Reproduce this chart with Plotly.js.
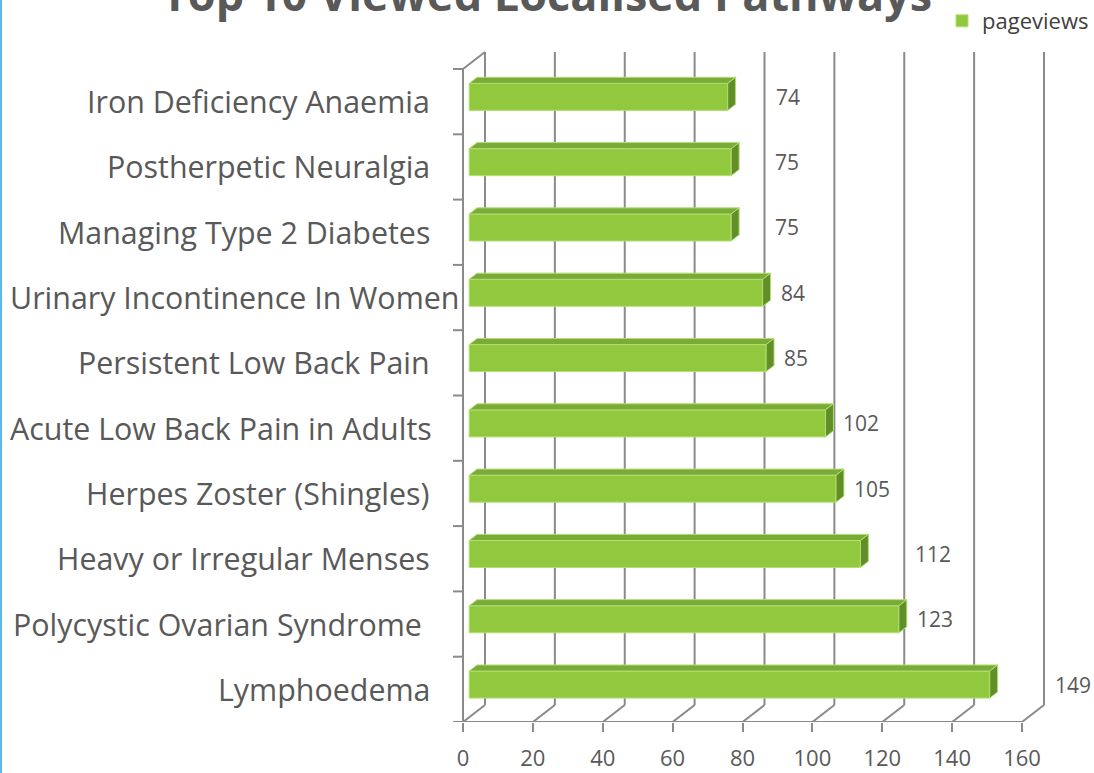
<!DOCTYPE html>
<html><head><meta charset="utf-8">
<script src="https://cdn.plot.ly/plotly-3.0.1.min.js"></script>
<style>html,body{margin:0;padding:0;background:#fff}#chart{width:1094px;height:773px}</style>
</head><body><div id="chart"></div>
<script>
// ---- data ----
const chartTitle = "Top 10 Viewed Localised Pathways";
const seriesName = "pageviews";
const categories = [
  "Iron Deficiency Anaemia",
  "Postherpetic Neuralgia",
  "Managing Type 2 Diabetes",
  "Urinary Incontinence In Women",
  "Persistent Low Back Pain",
  "Acute Low Back Pain in Adults",
  "Herpes Zoster (Shingles)",
  "Heavy or Irregular Menses",
  "Polycystic Ovarian Syndrome ",
  "Lymphoedema"
];
const pageviews = [74, 75, 75, 84, 85, 102, 105, 112, 123, 149];
const xTickValues = [0, 20, 40, 60, 80, 100, 120, 140, 160];
const xTickLabels = ["0", "20", "40", "60", "80", "100", "120", "140", "160"];

// ---- geometry / style ----
const W = 1094, H = 773;
const M = {l: 450, r: 48, t: 50, b: 51, autoexpand: false};
const plotW = W - M.l - M.r, plotH = H - M.t - M.b;
const x0px = 463, xEndPx = 1022;
const xMax = xTickValues[xTickValues.length - 1];
const kx = (xEndPx - x0px) / xMax;
const nCat = categories.length;
const bandPx = 653 / nCat;
const xRange = [-(x0px - M.l) / kx, (W - M.r - x0px) / kx];
const yRange = [-0.5, -0.5 + plotH / bandPx];
const DXB = 22 / kx, DYB = 17 / bandPx;      // depth of the 3D box
const fFront = 0.28, fDepth = 0.36;           // bar position within depth
const barW = 27 / bandPx;
const barBase = fFront * DXB, barDy = fFront * DYB;
const ddx = fDepth * DXB, ddy = fDepth * DYB;

const textGray = '#595959';
const gridCol = '#8a8a8a';
const frontCol = '#92c83e', topCol = '#7aab36', sideCol = '#618e27', edgeCol = '#b2df74';
const FONT = "'Open Sans', 'DejaVu Sans', sans-serif";

const yIdx = categories.map((c, i) => nCat - 1 - i);
const barY = yIdx.map(v => v + barDy);

const shapes = [];
function line(x0, y0, x1, y1, layer) {
  shapes.push({type: 'line', xref: 'x', yref: 'y', x0, y0, x1, y1,
    line: {color: gridCol, width: 2}, layer: layer || 'below'});
}
// back wall gridlines + floor diagonals
xTickValues.forEach(v => {
  line(v + DXB, -0.5 + DYB, v + DXB, nCat - 0.5 + DYB);
  line(v, -0.5, v + DXB, -0.5 + DYB);
});
// front axis line, left wall
line(0, -0.5, xMax, -0.5);
line(0, -0.5, 0, nCat - 0.5);
line(0, nCat - 0.5, DXB, nCat - 0.5 + DYB);
// category tick marks on left wall
for (let k = 0; k <= nCat; k++) {
  line(-10 / kx, k - 0.5, 0, k - 0.5);
}
// 3D faces of bars
pageviews.forEach((v, i) => {
  const yb = barY[i] - barW / 2, yt = barY[i] + barW / 2;
  const xs = barBase, xe = barBase + v;
  shapes.push({type: 'path', xref: 'x', yref: 'y', layer: 'above',
    path: `M${xs},${yt} L${xe},${yt} L${xe + ddx},${yt + ddy} L${xs + ddx},${yt + ddy} Z`,
    fillcolor: topCol, line: {color: edgeCol, width: 1}});
  shapes.push({type: 'path', xref: 'x', yref: 'y', layer: 'above',
    path: `M${xe},${yt} L${xe + ddx},${yt + ddy} L${xe + ddx},${yb + ddy} L${xe},${yb} Z`,
    fillcolor: sideCol, line: {color: edgeCol, width: 1}});
});
// blue edge at the very left of the picture
shapes.push({type: 'line', xref: 'paper', yref: 'paper',
  x0: (1 - M.l) / plotW, x1: (1 - M.l) / plotW, y0: -M.b / plotH, y1: 1 + M.t / plotH,
  line: {color: '#5bb9e9', width: 2}, layer: 'above'});

// text measuring helper
const ctx = document.createElement('canvas').getContext('2d');
function textWidth(s, size) { ctx.font = size + "px 'Open Sans'"; return ctx.measureText(s).width; }

// category labels (a long one is kept inside the picture)
const catFont = 30.4;
const annotations = [];
categories.forEach((c, i) => {
  const w = textWidth(c.trimEnd(), catFont);
  let right = 432;
  if (right - w < 12) right = 12 + w;
  annotations.push({xref: 'x', yref: 'y', x: 0, y: yIdx[i], text: c,
    xanchor: 'right', yanchor: 'middle', xshift: right - x0px, showarrow: false,
    font: {family: FONT, size: catFont, color: textGray}});
});
// data labels: just past the bar end, moved clear of a back gridline they would cross
const lblFont = 21;
pageviews.forEach((v, i) => {
  const endX = barBase + v + ddx;              // data units
  let shift = 8;                                // px
  const w = textWidth(String(v), lblFont);
  const startPx = endX * kx + shift;
  xTickValues.forEach(g => {
    const gPx = (g + DXB) * kx;
    if (gPx > startPx - 4 && gPx < startPx + w + 4) shift = Math.max(shift, gPx - endX * kx + 9);
  });
  annotations.push({xref: 'x', yref: 'y', x: endX, y: barY[i], text: String(v),
    xanchor: 'left', yanchor: 'middle', xshift: shift, showarrow: false,
    font: {family: FONT, size: lblFont, color: textGray}});
});

const data = [{
  type: 'bar', orientation: 'h', name: seriesName,
  x: pageviews, y: barY, base: barBase, width: barW,
  marker: {color: frontCol, line: {color: edgeCol, width: 1}},
  hovertext: categories, hoverinfo: 'text+x'
}];

const layout = {
  width: W, height: H,
  margin: M,
  paper_bgcolor: '#ffffff', plot_bgcolor: '#ffffff',
  font: {family: FONT, color: textGray},
  title: {text: '<b>' + chartTitle + '</b>', x: 0.5, xref: 'container', y: 1, yref: 'container',
    yanchor: 'top', pad: {t: -21}, font: {family: FONT, size: 45, color: textGray}},
  showlegend: true,
  legend: {xref: 'container', yref: 'container', x: 1, xanchor: 'right', y: 1.006, yanchor: 'top',
    font: {family: FONT, size: 22, color: '#404040'}, bgcolor: 'rgba(0,0,0,0)'},
  xaxis: {range: xRange, tickmode: 'array', tickvals: xTickValues, ticktext: xTickLabels,
    ticks: 'outside', ticklen: 9, tickwidth: 2, tickcolor: gridCol, ticklabelstandoff: 8,
    showgrid: false, zeroline: false, showline: false,
    tickfont: {family: FONT, size: 22, color: textGray}, fixedrange: true},
  yaxis: {range: yRange, showticklabels: false, ticks: '', showgrid: false,
    zeroline: false, showline: false, fixedrange: true},
  shapes: shapes,
  annotations: annotations,
  bargap: 0
};
Plotly.newPlot('chart', data, layout, {displayModeBar: false, staticPlot: true});
</script>
</body></html>
